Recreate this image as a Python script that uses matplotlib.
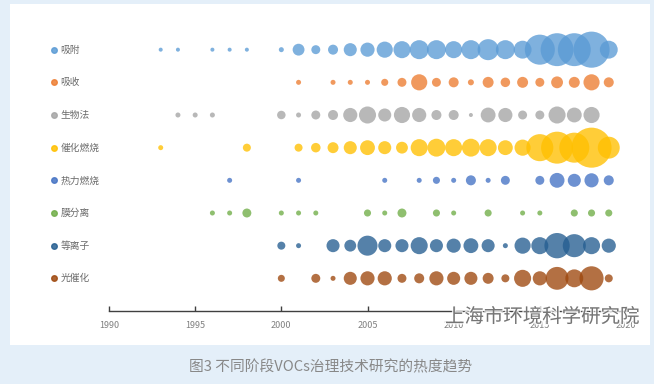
import matplotlib.pyplot as plt
from matplotlib.patches import Rectangle
import matplotlib.patheffects as pe

plt.rcParams["font.family"] = ["Noto Sans CJK SC", "DejaVu Sans"]

# %%
techs = ["吸附", "吸收", "生物法", "催化燃烧", "热力燃烧", "膜分离", "等离子", "光催化"]
colors = ["#5B9BD5", "#ED7D31", "#A5A5A5", "#FFC000", "#4472C4", "#70AD47", "#255E91", "#9E480E"]

adsorb_years = [1993, 1994, 1996, 1997, 1998] + list(range(2000, 2020))
adsorb_heat = [1.6, 1.6, 1.6, 1.6, 1.6, 2.5, 14, 8, 10, 17, 20, 26, 29, 36, 36,
               29, 36, 44, 36, 32, 90, 108, 108, 130, 32]

absorb_years = [2001] + list(range(2003, 2020))
absorb_heat = [2.5, 2.5, 2.5, 2.5, 5, 8, 26, 8, 10, 3.6, 12, 9, 12, 8, 14, 12, 26, 10]

bio_years = [1994, 1995, 1996] + list(range(2000, 2019))
bio_heat = [2.5, 2.5, 2.5, 7.2, 2.5, 8, 10, 20, 29, 17, 26, 20, 10, 10, 1.6,
            22, 20, 8, 8, 29, 22, 26]

catalytic_years = [1993, 1998] + list(range(2001, 2020))
catalytic_heat = [2.5, 6.4, 6.4, 9, 12, 17, 22, 17, 14, 29, 32, 29, 32, 29, 22,
                  26, 73, 102, 90, 160, 48]

thermal_years = [1997, 2001, 2006, 2008, 2009, 2010, 2011, 2012, 2013, 2015,
                 2016, 2017, 2018, 2019]
thermal_heat = [2.5, 2.5, 2.5, 2.5, 5, 2.5, 10, 2.5, 8, 8, 22, 17, 20, 10]

membrane_years = [1996, 1997, 1998, 2000, 2001, 2002, 2005, 2006, 2007, 2009,
                  2010, 2012, 2014, 2015, 2017, 2018, 2019]
membrane_heat = [2.5, 2.5, 8, 2.5, 2.5, 2.5, 5, 2.5, 8, 5, 2.5, 5, 2.5, 2.5, 5, 5, 5]

plasma_years = [2000, 2001] + list(range(2003, 2020))
plasma_heat = [6.4, 2.5, 17, 14, 40, 17, 17, 29, 17, 20, 22, 17, 2.5, 26, 29,
               64, 53, 29, 20]

photo_years = [2000] + list(range(2002, 2020))
photo_heat = [4.9, 8, 2.5, 17, 20, 20, 8, 10, 20, 17, 17, 12, 6.4, 29, 20, 52,
              32, 58, 6.4]

series = [
    (adsorb_years, adsorb_heat),
    (absorb_years, absorb_heat),
    (bio_years, bio_heat),
    (catalytic_years, catalytic_heat),
    (thermal_years, thermal_heat),
    (membrane_years, membrane_heat),
    (plasma_years, plasma_heat),
    (photo_years, photo_heat),
]
year_ticks = [1990, 1995, 2000, 2005, 2010, 2015, 2020]

# %%
fig = plt.figure(figsize=(6.54, 3.84), dpi=100, facecolor="#e4eff9")
fig.patches.append(Rectangle((10 / 654, 1 - 345 / 384), 640 / 654, 341 / 384,
                             transform=fig.transFigure, facecolor="white",
                             edgecolor="none", zorder=-1))

ax = fig.add_axes([109 / 654, 1 - 311 / 384, 517 / 654, 294 / 384])
ax.set_facecolor("none")
ax.set_zorder(2)

n = len(techs)
for i, (name, color, (years, heat)) in enumerate(zip(techs, colors, series)):
    y = n - i
    ax.scatter(years, [y] * len(years), s=[h * 5.2 for h in heat], color=color,
               alpha=0.78, edgecolors="none", zorder=3, clip_on=False)
    # row label with colour dot on the left
    ax.plot([-0.106], [y], marker="o", ms=4, color=color, alpha=0.85,
            transform=ax.get_yaxis_transform(), clip_on=False)
    ax.text(-0.094, y, name, transform=ax.get_yaxis_transform(), ha="left",
            va="center", fontsize=7, color="#6b6b6b")

ax.set_xlim(1990, 2020)
ax.set_ylim(0, n + 1)
ax.set_xticks(year_ticks)
ax.set_yticks([])
for side in ["top", "right", "left"]:
    ax.spines[side].set_visible(False)
ax.spines["bottom"].set_color("#404040")
ax.spines["bottom"].set_linewidth(1)
ax.tick_params(axis="x", direction="in", length=3.5, width=1, color="#404040",
               labelsize=6.5, labelcolor="#808080", pad=7)

fig.text(331 / 654, 1 - 367 / 384, "图3 不同阶段VOCs治理技术研究的热度趋势",
         ha="center", va="center", fontsize=10.6, color="#888888")

fig.text(445 / 654, 1 - 317 / 384, "上海市环境科学研究院", ha="left", va="center",
         fontsize=14, color="#5a5a5a", alpha=0.8, zorder=5,
         path_effects=[pe.withStroke(linewidth=2, foreground="white")])

fig.savefig("out.png", dpi=100, facecolor=fig.get_facecolor())
